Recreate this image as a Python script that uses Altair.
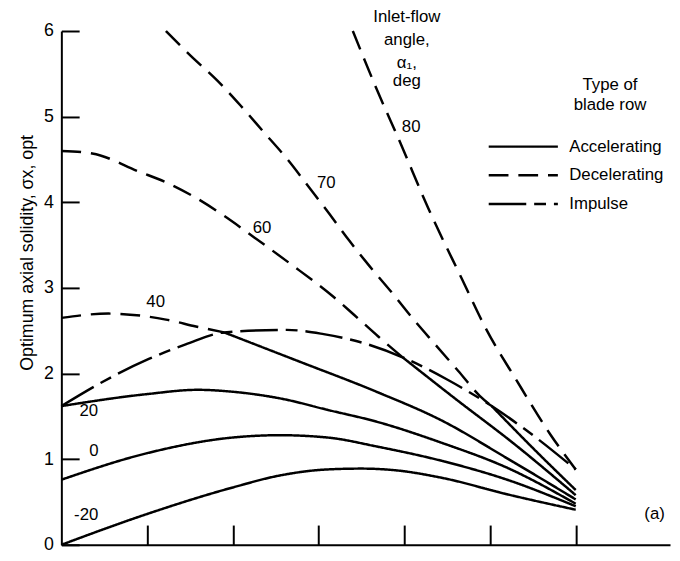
import altair as alt
import pandas as pd

# ---- curve data ----
# inlet-flow angle -20 deg (accelerating)
M20_X = [0.0, 1.0, 2.0, 2.55, 3.1, 3.5, 3.9, 4.45, 5.2, 6.0]
M20_Y = [0.0, 0.36, 0.67, 0.81, 0.88, 0.89, 0.87, 0.78, 0.59, 0.41]
# 0 deg (accelerating)
A0_X = [0.0, 1.0, 1.97, 2.55, 3.13, 3.67, 4.44, 5.2, 6.0]
A0_Y = [0.76, 1.07, 1.25, 1.28, 1.25, 1.15, 0.98, 0.76, 0.45]
# 20 deg (accelerating)
A20_X = [0.0, 1.0, 1.59, 1.97, 2.55, 3.13, 3.67, 4.44, 5.2, 6.0]
A20_Y = [1.62, 1.76, 1.81, 1.79, 1.71, 1.57, 1.44, 1.19, 0.90, 0.48]
# 40 deg
D40_X = [0.0, 0.55, 1.22, 1.57, 1.90]
D40_Y = [2.65, 2.70, 2.63, 2.55, 2.48]
A40_X = [1.90, 2.75, 3.67, 4.44, 5.2, 6.0]
A40_Y = [2.48, 2.15, 1.79, 1.45, 1.01, 0.53]
# 60 deg
D60_X = [0.0, 0.36, 0.90, 1.25, 1.59, 1.90, 2.25, 2.66, 3.17, 3.41, 3.70, 3.98]
D60_Y = [4.60, 4.57, 4.36, 4.22, 4.04, 3.84, 3.59, 3.29, 2.90, 2.69, 2.43, 2.19]
A60_X = [3.98, 4.59, 5.28, 6.0]
A60_Y = [2.19, 1.71, 1.18, 0.58]
# 70 deg
D70_X = [1.22, 1.51, 1.82, 2.09, 2.36, 2.63, 2.90, 3.13, 3.36, 3.59, 3.86, 4.11, 4.36, 4.63, 4.88, 5.02]
D70_Y = [6.0, 5.71, 5.42, 5.13, 4.82, 4.51, 4.16, 3.86, 3.55, 3.26, 2.94, 2.63, 2.34, 2.03, 1.74, 1.62]
A70_X = [5.02, 5.51, 6.0]
A70_Y = [1.62, 1.12, 0.64]
# 80 deg (decelerating)
D80_X = [3.40, 3.67, 3.96, 4.28, 4.67, 4.96, 5.31, 5.71, 6.0]
D80_Y = [6.0, 5.34, 4.68, 3.93, 3.11, 2.51, 1.92, 1.28, 0.88]
# impulse locus
IMP_X = [0.0, 0.44, 1.02, 1.45, 1.90, 2.63, 3.06, 3.44, 3.98, 4.5, 5.02, 5.42, 6.0]
IMP_Y = [1.62, 1.88, 2.17, 2.34, 2.48, 2.51, 2.46, 2.38, 2.19, 1.93, 1.62, 1.34, 0.88]

TYPES = ["Accelerating", "Decelerating", "Impulse"]

SEGMENTS = [
    ("-20", "Accelerating", M20_X, M20_Y),
    ("0", "Accelerating", A0_X, A0_Y),
    ("20", "Accelerating", A20_X, A20_Y),
    ("40d", "Decelerating", D40_X, D40_Y),
    ("40a", "Accelerating", A40_X, A40_Y),
    ("60d", "Decelerating", D60_X, D60_Y),
    ("60a", "Accelerating", A60_X, A60_Y),
    ("70d", "Decelerating", D70_X, D70_Y),
    ("70a", "Accelerating", A70_X, A70_Y),
    ("80d", "Decelerating", D80_X, D80_Y),
    ("imp", "Impulse", IMP_X, IMP_Y),
]

# curve labels (angle values) and other annotations
CURVE_LABELS = ["-20", "0", "20", "40", "60", "70", "80"]
CURVE_LABEL_X = [0.29, 0.38, 0.32, 1.10, 2.34, 3.09, 4.08]
CURVE_LABEL_Y = [0.35, 1.10, 1.56, 2.83, 3.70, 4.22, 4.88]

NOTE_TEXT = ["Inlet-flow", "angle,", "α₁,", "deg", "Type of", "blade row", "(a)"]
NOTE_X = [4.03, 4.03, 4.03, 4.03, 6.40, 6.40, 6.92]
NOTE_Y = [6.16, 5.90, 5.63, 5.41, 5.37, 5.13, 0.36]

Y_TICKS = [0, 1, 2, 3, 4, 5, 6]
X_TICKS = [1, 2, 3, 4, 5, 6]

rows = []
for name, typ, xs, ys in SEGMENTS:
    for xv, yv in zip(xs, ys):
        rows.append({"curve": name, "type": typ, "x": xv, "y": yv})
df = pd.DataFrame(rows)

labels_df = pd.DataFrame({"t": CURVE_LABELS, "x": CURVE_LABEL_X, "y": CURVE_LABEL_Y})
notes_df = pd.DataFrame({"t": NOTE_TEXT, "x": NOTE_X, "y": NOTE_Y})

FONT = "Liberation Sans"
W, H = 616, 520

xscale = alt.Scale(domain=[0, 7.1], nice=False, zero=False)
yscale = alt.Scale(domain=[0, 6], nice=False, zero=False)

x_axis = alt.Axis(orient="top", offset=-H, values=X_TICKS, labels=False, tickSize=20,
                  tickWidth=2, tickColor="black", domainColor="black", domainWidth=2,
                  grid=False, title=None)
y_axis = alt.Axis(orient="right", offset=-W, values=Y_TICKS, format="d", tickSize=18,
                  tickWidth=2, tickColor="black", domainColor="black", domainWidth=2,
                  grid=False, labelPadding=-26, labelAlign="right", labelBaseline="middle",
                  labelFont=FONT, labelFontSize=18, labelColor="black",
                  title="Optimum axial solidity,  σx, opt", titleAngle=270,
                  titleX=-34, titleY=224, titleAlign="center", titleBaseline="middle",
                  titleFont=FONT, titleFontSize=18, titleFontWeight="normal",
                  titleColor="black")

lines = alt.Chart(df).mark_line(color="black", strokeWidth=2.5, interpolate="monotone").encode(
    x=alt.X("x:Q", scale=xscale, axis=x_axis),
    y=alt.Y("y:Q", scale=yscale, axis=y_axis),
    detail="curve:N",
    strokeDash=alt.StrokeDash(
        "type:N",
        scale=alt.Scale(domain=TYPES, range=[[1, 0], [20, 10], [38, 8, 12, 8]]),
        legend=alt.Legend(orient="none", legendX=431, legendY=109, title=None,
                          symbolType="stroke", symbolSize=4900, symbolStrokeWidth=2.5,
                          symbolStrokeColor="black", clipHeight=16, rowPadding=12,
                          labelOffset=10, labelFont=FONT, labelFontSize=17,
                          labelColor="black", padding=0),
    ),
)

curve_text = alt.Chart(labels_df).mark_text(font=FONT, fontSize=17, color="black",
                                            align="center", baseline="middle").encode(
    x=alt.X("x:Q", scale=xscale), y=alt.Y("y:Q", scale=yscale), text="t:N")

note_text = alt.Chart(notes_df).mark_text(font=FONT, fontSize=17, color="black",
                                          align="center", baseline="middle").encode(
    x=alt.X("x:Q", scale=xscale), y=alt.Y("y:Q", scale=yscale), text="t:N")

chart = alt.layer(lines, curve_text, note_text).properties(
    width=W, height=H,
    autosize=alt.AutoSizeParams(type="none"),
    padding={"left": 54, "top": 20, "right": 2, "bottom": 5},
).configure_view(stroke=None)

chart.save("out.html", embed_options={"renderer": "svg", "actions": False})
